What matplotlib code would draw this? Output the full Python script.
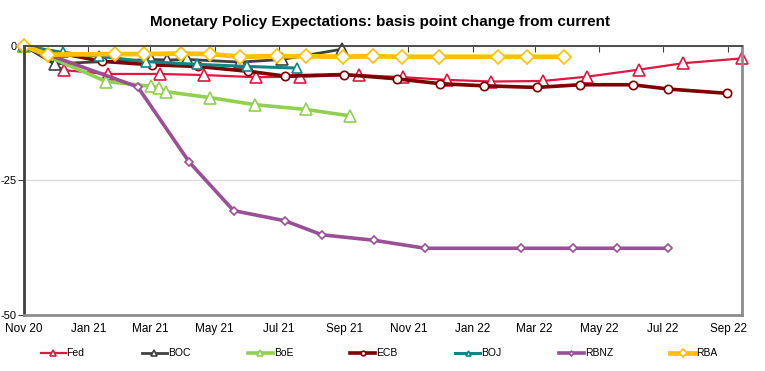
import pandas as pd
import matplotlib.pyplot as plt
import matplotlib.dates as mdates

plt.rcParams['font.family'] = ['Liberation Sans', 'DejaVu Sans']

# data (bp change from current)
fed_dates = ['2020-11-08', '2020-12-16', '2021-01-27', '2021-03-17', '2021-04-28', '2021-06-16',
             '2021-07-28', '2021-09-22', '2021-11-03', '2021-12-15', '2022-01-26', '2022-03-16',
             '2022-04-27', '2022-06-15', '2022-07-27', '2022-09-21']
fed_vals = [0, -4.5, -5.2, -5.2, -5.4, -5.8, -5.7, -5.4, -5.8, -6.3, -6.6, -6.5, -5.7, -4.4, -3.2, -2.3]

boc_dates = ['2020-11-08', '2020-12-07', '2021-03-09', '2021-03-24', '2021-04-12', '2021-06-01',
             '2021-07-11', '2021-09-06']
boc_vals = [0, -3.3, -2.5, -2.6, -2.5, -3.0, -2.5, -0.6]

boe_dates = ['2020-11-08', '2021-01-25', '2021-03-09', '2021-03-16', '2021-03-23', '2021-05-04',
             '2021-06-15', '2021-08-03', '2021-09-14']
boe_vals = [0, -6.6, -7.5, -7.8, -8.5, -9.6, -10.9, -11.8, -13.0]

ecb_dates = ['2020-11-08', '2021-01-21', '2021-03-10', '2021-04-22', '2021-06-09', '2021-07-14',
             '2021-09-08', '2021-10-28', '2021-12-08', '2022-01-19', '2022-03-10', '2022-04-20',
             '2022-06-09', '2022-07-13', '2022-09-07']
ecb_vals = [0, -2.85, -3.5, -3.8, -4.7, -5.6, -5.3, -6.1, -7.0, -7.4, -7.7, -7.2, -7.2, -8.0, -8.8]

boj_dates = ['2020-11-08', '2020-12-15', '2021-01-18', '2021-03-04', '2021-04-21', '2021-06-08',
             '2021-07-25']
boj_vals = [0, -1.2, -1.9, -2.9, -3.4, -3.8, -4.1]

rbnz_dates = ['2020-11-08', '2021-02-24', '2021-04-14', '2021-05-26', '2021-07-14', '2021-08-18',
              '2021-10-06', '2021-11-24', '2022-02-23', '2022-04-13', '2022-05-25', '2022-07-13']
rbnz_vals = [0, -7.6, -21.6, -30.6, -32.5, -35.1, -36.1, -37.6, -37.6, -37.6, -37.6, -37.6]

rba_dates = ['2020-11-08', '2020-12-01', '2021-02-02', '2021-03-02', '2021-04-06', '2021-05-04',
             '2021-06-01', '2021-07-06', '2021-08-03', '2021-09-07', '2021-10-05', '2021-11-02',
             '2021-12-07', '2022-02-01', '2022-03-01', '2022-04-05']
rba_vals = [0, -1.6, -1.5, -1.5, -1.4, -1.5, -2.0, -1.9, -1.9, -2.0, -1.9, -2.0, -2.0, -2.0, -2.0, -2.0]

tick_dates = ['2020-11-08', '2021-01-08', '2021-03-08', '2021-05-08', '2021-07-08', '2021-09-08',
              '2021-11-08', '2022-01-08', '2022-03-08', '2022-05-08', '2022-07-08', '2022-09-08']

fig = plt.figure(figsize=(7.65, 3.71), dpi=100)
ax = fig.add_axes([0.0314, 0.151, 0.9386, 0.725])

series = [
    ('Fed', fed_dates, fed_vals, '#E0173F', 1.6, '^', 8.5),
    ('BOC', boc_dates, boc_vals, '#404040', 2.0, '^', 8),
    ('BoE', boe_dates, boe_vals, '#92D050', 2.6, '^', 9),
    ('ECB', ecb_dates, ecb_vals, '#7F0000', 2.6, 'o', 6),
    ('BOJ', boj_dates, boj_vals, '#0F8585', 2.2, '^', 6.5),
    ('RBNZ', rbnz_dates, rbnz_vals, '#9B4F96', 2.6, 'D', 4.5),
    ('RBA', rba_dates, rba_vals, '#FFC000', 3.4, 'D', 7.5),
]
for name, d, v, c, lw, m, ms in series:
    ax.plot(pd.to_datetime(d), v, color=c, lw=lw, marker=m, ms=ms, mfc='white', mec=c,
            mew=1.2, label=name, clip_on=False)

ax.set_xlim(pd.Timestamp('2020-11-08'), pd.Timestamp('2022-09-21'))
ax.set_ylim(-50, 0)
ax.set_yticks([0, -25, -50])
ax.set_yticklabels(['0', '-25', '-50'], fontsize=8)
ax.yaxis.grid(True, color='#D9D9D9', lw=0.9)
ax.set_axisbelow(True)

ax.set_xticks(pd.to_datetime(tick_dates))
ax.xaxis.set_major_formatter(mdates.DateFormatter('%b %y'))
ax.tick_params(axis='x', top=True, bottom=False, labeltop=False, labelbottom=True,
               direction='in', length=4, color='#404040', labelsize=8.5, pad=6)
ax.tick_params(axis='y', direction='out', length=4, color='#404040', pad=1.5)

ax.spines['top'].set_color('#404040')
ax.spines['top'].set_linewidth(1.3)
ax.spines['left'].set_color('#404040')
ax.spines['left'].set_linewidth(2)
ax.spines['right'].set_color('#8C8C8C')
ax.spines['right'].set_linewidth(2)
ax.spines['bottom'].set_color('#8C8C8C')
ax.spines['bottom'].set_linewidth(2)

fig.text(0.497, 0.941, 'Monetary Policy Expectations: basis point change from current',
         ha='center', va='center', fontsize=11, fontweight='bold')

fig.legend(loc='center left', bbox_to_anchor=(0.053, 0.048, 0.885, 0.0), ncol=7, mode='expand',
           frameon=False, fontsize=7.5, handlelength=2.4, handletextpad=0.1, borderpad=0,
           borderaxespad=0, markerscale=0.55)

fig.savefig('out.png', dpi=100)
